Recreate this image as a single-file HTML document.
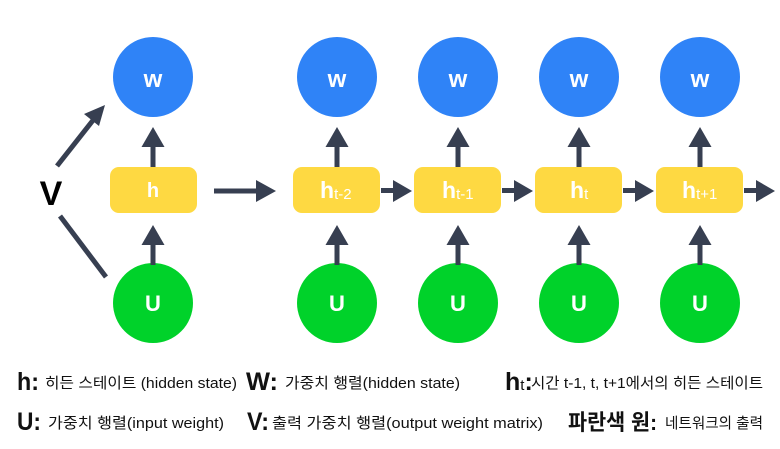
<!DOCTYPE html>
<html><head><meta charset="utf-8"><style>
html,body{margin:0;padding:0;background:#fff;}
svg{display:block;}
text{font-family:"Liberation Sans","Noto Sans CJK KR",sans-serif;}
</style></head><body>
<svg width="780" height="449" viewBox="0 0 780 449" xmlns="http://www.w3.org/2000/svg">
<defs>
<g id="up">
  <rect x="-2.5" y="0" width="5" height="20" fill="#373f51"/>
  <polygon points="-11.5,0 11.5,0 0,-20" fill="#373f51"/>
</g>
</defs>
<circle cx="153" cy="77" r="40" fill="#2f83f7"/>
<circle cx="153" cy="303" r="40" fill="#00d22a"/>
<rect x="110" y="167" width="87" height="46" rx="9" fill="#fed942"/>
<text x="153" y="87" fill="#fff" font-size="24" font-weight="bold" text-anchor="middle">w</text>
<text x="153" y="311" fill="#fff" font-size="22" font-weight="bold" text-anchor="middle">U</text>
<text x="153" y="197" fill="#fff" font-size="20" font-weight="bold" text-anchor="middle">h</text>
<g transform="translate(153,147)"><use href="#up"/></g>
<g transform="translate(153,245)"><use href="#up"/></g>
<rect x="214" y="188.5" width="44" height="5" fill="#373f51"/>
<polygon points="256,180 256,202 276,191" fill="#373f51"/>
<text x="51" y="205" font-size="34" font-weight="bold" text-anchor="middle" fill="#000">V</text>
<line x1="57" y1="166" x2="94" y2="119" stroke="#373f51" stroke-width="5"/>
<polygon points="105,105 84,114 99,126" fill="#373f51"/>
<line x1="60" y1="216" x2="106" y2="277" stroke="#373f51" stroke-width="5"/>
<circle cx="337" cy="77" r="40" fill="#2f83f7"/>
<circle cx="458" cy="77" r="40" fill="#2f83f7"/>
<circle cx="579" cy="77" r="40" fill="#2f83f7"/>
<circle cx="700" cy="77" r="40" fill="#2f83f7"/>
<circle cx="337" cy="303" r="40" fill="#00d22a"/>
<circle cx="458" cy="303" r="40" fill="#00d22a"/>
<circle cx="579" cy="303" r="40" fill="#00d22a"/>
<circle cx="700" cy="303" r="40" fill="#00d22a"/>
<g fill="#fff" font-size="24" font-weight="bold" text-anchor="middle">
<text x="337" y="87">w</text><text x="458" y="87">w</text><text x="579" y="87">w</text><text x="700" y="87">w</text>
</g>
<g fill="#fff" font-size="22" font-weight="bold" text-anchor="middle">
<text x="337" y="311">U</text><text x="458" y="311">U</text><text x="579" y="311">U</text><text x="700" y="311">U</text>
</g>
<rect x="293" y="167" width="87" height="46" rx="9" fill="#fed942"/>
<rect x="414" y="167" width="87" height="46" rx="9" fill="#fed942"/>
<rect x="535" y="167" width="87" height="46" rx="9" fill="#fed942"/>
<rect x="656" y="167" width="87" height="46" rx="9" fill="#fed942"/>
<g fill="#fff">
<text x="320" y="198" font-size="23" font-weight="bold">h<tspan font-size="15" font-weight="normal" dy="1">t-2</tspan></text>
<text x="442" y="198" font-size="23" font-weight="bold">h<tspan font-size="15" font-weight="normal" dy="1">t-1</tspan></text>
<text x="570" y="198" font-size="23" font-weight="bold">h<tspan font-size="15" font-weight="normal" dy="1">t</tspan></text>
<text x="682" y="198" font-size="23" font-weight="bold">h<tspan font-size="15" font-weight="normal" dy="1">t+1</tspan></text>
</g>
<g transform="translate(337,147)"><use href="#up"/></g>
<g transform="translate(458,147)"><use href="#up"/></g>
<g transform="translate(579,147)"><use href="#up"/></g>
<g transform="translate(700,147)"><use href="#up"/></g>
<g transform="translate(337,245)"><use href="#up"/></g>
<g transform="translate(458,245)"><use href="#up"/></g>
<g transform="translate(579,245)"><use href="#up"/></g>
<g transform="translate(700,245)"><use href="#up"/></g>
<g fill="#373f51">
<rect x="381" y="188" width="14" height="5"/><polygon points="393,180 393,202 412,191"/>
<rect x="502" y="188" width="14" height="5"/><polygon points="514,180 514,202 533,191"/>
<rect x="623" y="188" width="14" height="5"/><polygon points="635,180 635,202 654,191"/>
<rect x="744" y="188" width="14" height="5"/><polygon points="756,180 756,202 775,191"/>
</g>
<g fill="#111">
<text x="17" y="390" font-size="25" font-weight="bold" textLength="22" lengthAdjust="spacingAndGlyphs">h:</text>
<text x="45" y="388" font-size="15" textLength="192" lengthAdjust="spacingAndGlyphs">히든 스테이트 (hidden state)</text>
<text x="246" y="390" font-size="25" font-weight="bold" textLength="32" lengthAdjust="spacingAndGlyphs">W:</text>
<text x="285" y="388" font-size="15" textLength="175" lengthAdjust="spacingAndGlyphs">가중치 행렬(hidden state)</text>
<text x="505" y="390" font-size="25" font-weight="bold">h<tspan font-size="15" font-weight="normal">t</tspan>:</text>
<text x="531" y="388" font-size="15" textLength="232" lengthAdjust="spacingAndGlyphs">시간 t-1, t, t+1에서의 히든 스테이트</text>
<text x="17" y="430" font-size="25" font-weight="bold" textLength="24" lengthAdjust="spacingAndGlyphs">U:</text>
<text x="48" y="428" font-size="15" textLength="176" lengthAdjust="spacingAndGlyphs">가중치 행렬(input weight)</text>
<text x="247" y="430" font-size="25" font-weight="bold" textLength="22" lengthAdjust="spacingAndGlyphs">V:</text>
<text x="272" y="428" font-size="15" textLength="271" lengthAdjust="spacingAndGlyphs">출력 가중치 행렬(output weight matrix)</text>
<text x="568" y="430" font-size="22" font-weight="bold" textLength="89" lengthAdjust="spacingAndGlyphs">파란색 원:</text>
<text x="665" y="428" font-size="15" textLength="98" lengthAdjust="spacingAndGlyphs">네트워크의 출력</text>
</g>
</svg>
</body></html>
